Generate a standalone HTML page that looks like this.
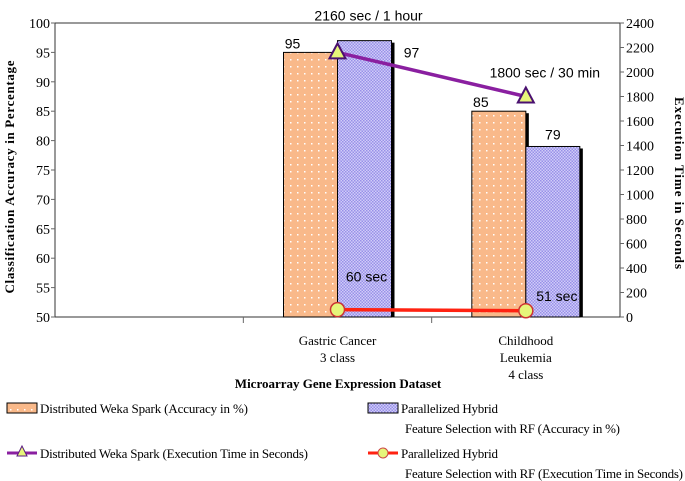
<!DOCTYPE html>
<html><head><meta charset="utf-8"><style>
body{margin:0;background:#fff}
svg{display:block;font-family:"Liberation Serif",serif}
.lbl{font-family:"Liberation Sans",sans-serif;font-size:14px}
</style></head><body>
<svg id="chart" width="685" height="481" viewBox="0 0 685 481">
<defs>
<pattern id="dots" width="7" height="7" patternUnits="userSpaceOnUse"><rect width="7" height="7" fill="#f9b98a"/><rect x="3" y="3" width="1.5" height="1.5" fill="#fff"/></pattern>
<pattern id="check" width="3" height="3" patternUnits="userSpaceOnUse"><rect width="3" height="3" fill="#d0ccf8"/><rect width="1.5" height="1.5" fill="#9890e8"/><rect x="1.5" y="1.5" width="1.5" height="1.5" fill="#9890e8"/></pattern>
</defs>
<g id="axes"></g><g id="marks"></g>
<text x="14" y="177" transform="rotate(-90 14 177)" text-anchor="middle" font-weight="bold" font-size="13" textLength="233">Classification Accuracy in Percentage</text>
<text x="675" y="183" transform="rotate(90 675 183)" text-anchor="middle" font-weight="bold" font-size="13" textLength="172">Execution Time in Seconds</text>
<text x="338" y="388" text-anchor="middle" font-weight="bold" font-size="13">Microarray Gene Expression Dataset</text>
<g font-size="13">
<g><rect x="7" y="403" width="30" height="10" fill="url(#dots)" stroke="#000"/><text x="40" y="413" textLength="208">Distributed Weka Spark (Accuracy in %)</text></g>
<g><rect x="368" y="403" width="30" height="10" fill="url(#check)" stroke="#000"/><text x="401" y="413" textLength="97">Parallelized Hybrid</text><text x="405" y="433" textLength="215">Feature Selection with RF (Accuracy in %)</text></g>
<g><line x1="7" y1="453" x2="37" y2="453" stroke="#8a1fa0" stroke-width="3"/><polygon points="22,446 17,456 27,456" fill="#e6f57a" stroke="#5a1a80"/><text x="40" y="458" textLength="268">Distributed Weka Spark (Execution Time in Seconds)</text></g>
<g><line x1="368" y1="453" x2="398" y2="453" stroke="#f21" stroke-width="3"/><circle cx="383" cy="453" r="5" fill="#e6f57a" stroke="#c44"/><text x="401" y="458" textLength="97">Parallelized Hybrid</text><text x="405" y="478" textLength="278">Feature Selection with RF (Execution Time in Seconds)</text></g>
</g>
</svg>
<script>
const categories=["","Gastric Cancer|3 class","Childhood|Leukemia|4 class"];
const wekaAcc=[null,95,85];
const hybridAcc=[null,97,79];
const wekaTime=[null,2160,1800];
const hybridTime=[null,60,51];
const wekaTimeLabels=["","2160 sec / 1 hour","1800 sec / 30 min"];
const hybridTimeLabels=["","60 sec","51 sec"];
const leftTicks=[50,55,60,65,70,75,80,85,90,95,100];
const rightTicks=[0,200,400,600,800,1000,1200,1400,1600,1800,2000,2200,2400];
const NS="http://www.w3.org/2000/svg";
const L=55,R=620,T=23,B=317;
const yL=v=>B-(v-50)/50*(B-T);
const yR=v=>B-v/2400*(B-T);
const cw=(R-L)/categories.length;
const cx=i=>L+cw*(i+0.5);
function mk(tag,attrs,parent,text){const e=document.createElementNS(NS,tag);for(const k in attrs)e.setAttribute(k,attrs[k]);if(text!==undefined)e.textContent=text;parent.appendChild(e);return e;}
const ax=document.getElementById('axes'),mg=document.getElementById('marks');
let e=mk('rect',{x:L,y:T,width:R-L,height:B-T,fill:'none',stroke:'#333'},ax);

leftTicks.forEach(t=>{mk('line',{x1:L-4,x2:L,y1:yL(t),y2:yL(t),stroke:'#666'},ax);
 e=mk('text',{x:L-5,y:yL(t)+5,'text-anchor':'end','font-size':14},ax,t);
 });
rightTicks.forEach(t=>{mk('line',{x1:R,x2:R+4,y1:yR(t),y2:yR(t),stroke:'#666'},ax);
 e=mk('text',{x:R+6,y:yR(t)+5,'font-size':14},ax,t);
 });
for(let i=1;i<categories.length;i++){const x=L+cw*i;mk('line',{x1:x,x2:x,y1:B,y2:B+6,stroke:'#666'},ax);}
categories.forEach((c,i)=>{c.split('|').forEach((s,j)=>{if(!s)return;
 e=mk('text',{x:cx(i),y:345+j*17,'text-anchor':'middle','font-size':13},ax,s);
 });});
const bw=54;
categories.forEach((c,i)=>{
 [[wekaAcc,'url(#dots)',-bw,'bar-weka-accuracy'],[hybridAcc,'url(#check)',0,'bar-hybrid-accuracy']].forEach(([arr,fill,off,name])=>{
  const v=arr[i];if(v==null)return;const x=cx(i)+off,y=yL(v);
  mk('rect',{x:x+bw,y:y+2,width:3,height:B-y-2,fill:'#000'},mg);
  e=mk('rect',{x:x,y:y,width:bw,height:B-y,fill:fill,stroke:'#000','stroke-width':1},mg);
  
  let lx,ly;
  if(off<0){lx=x+bw/2-18;ly=y-4;}
  else if(i==1){lx=x+bw+20;ly=y+17;}
  else{lx=x+bw/2;ly=y-7;}
  e=mk('text',{x:lx,y:ly,'text-anchor':'middle',class:'lbl'},mg,v);
  
 });
});
function line(arr,color,name){let pts=[];arr.forEach((v,i)=>{if(v!=null)pts.push(cx(i)+','+yR(v));});
 e=mk('polyline',{points:pts.join(' '),fill:'none',stroke:color,'stroke-width':3.5},mg);
 }
line(wekaTime,'#8a1fa0','line-weka-time');line(hybridTime,'#f21','line-hybrid-time');
wekaTime.forEach((v,i)=>{if(v==null)return;const x=cx(i),y=yR(v);
 e=mk('polygon',{points:`${x},${y-9} ${x-8},${y+6} ${x+8},${y+6}`,fill:'#e6f57a',stroke:'#4a1070','stroke-width':2},mg);
 
 e=mk('text',{x:x+(i==1?31:19),y:i==1?y-32:y-19,'text-anchor':'middle',class:'lbl'},mg,wekaTimeLabels[i]);
 });
hybridTime.forEach((v,i)=>{if(v==null)return;const x=cx(i),y=yR(v);
 e=mk('circle',{cx:x,cy:y,r:7,fill:'#e6f57a',stroke:'#c33','stroke-width':1.5},mg);
 
 e=mk('text',{x:x+(i==1?29:31),y:i==1?y-28:y-10,'text-anchor':'middle',class:'lbl'},mg,hybridTimeLabels[i]);
 });
</script>
</body></html>
